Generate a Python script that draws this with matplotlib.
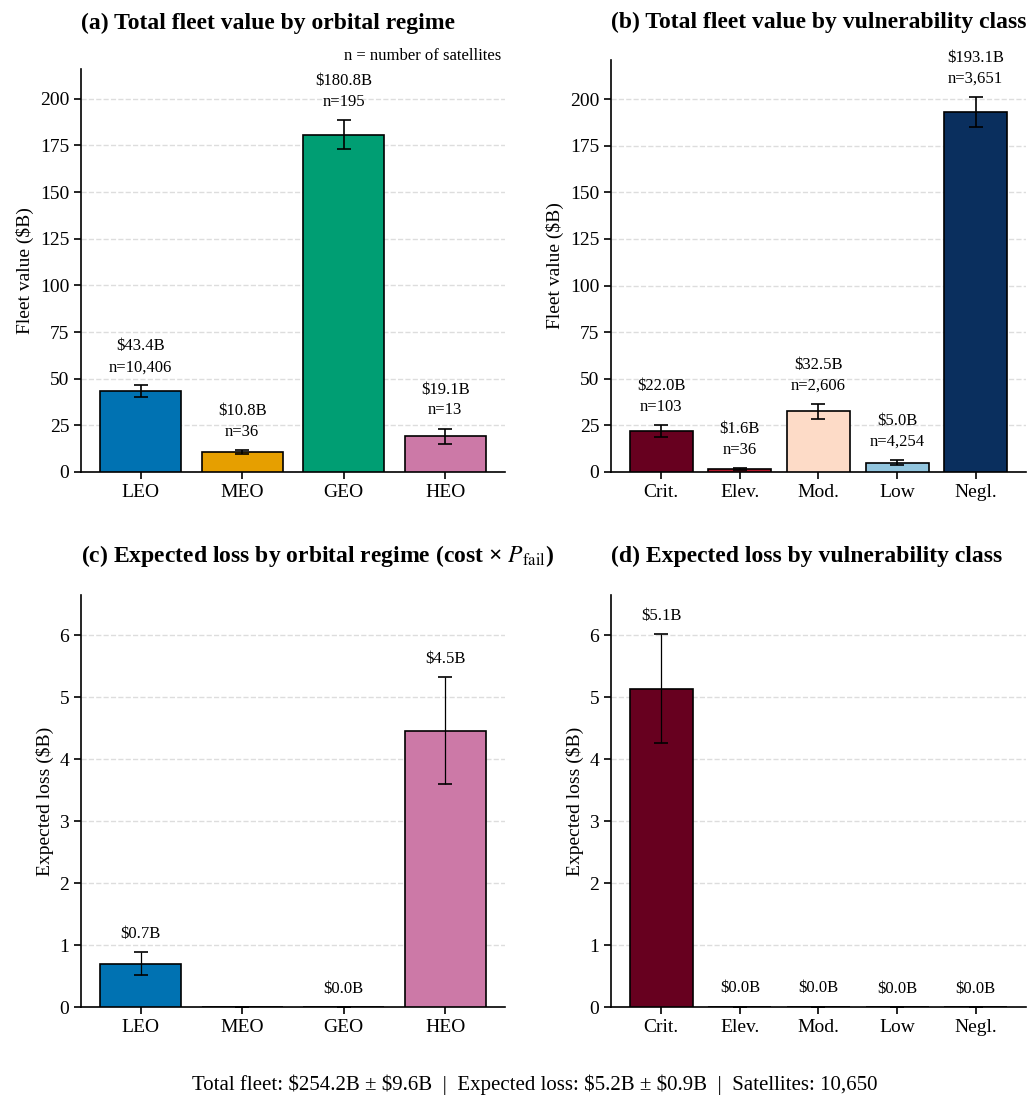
import matplotlib
matplotlib.use("Agg")
import matplotlib.pyplot as plt
import numpy as np

plt.rcParams["font.family"] = ["Liberation Serif", "DejaVu Serif"]
plt.rcParams["mathtext.fontset"] = "stix"

# fleet value by orbital regime ($B)
regimes = ["LEO", "MEO", "GEO", "HEO"]
regime_value = [43.4, 10.8, 180.8, 19.1]
regime_value_err = [3.1, 1.0, 7.8, 4.2]
regime_n = [10406, 36, 195, 13]
regime_colors = ["#0072B2", "#E69F00", "#009E73", "#CC79A7"]

# fleet value by vulnerability class ($B)
classes = ["Crit.", "Elev.", "Mod.", "Low", "Negl."]
class_value = [22.0, 1.6, 32.5, 5.0, 193.1]
class_value_err = [3.0, 0.5, 4.0, 1.4, 8.0]
class_n = [103, 36, 2606, 4254, 3651]
class_colors = ["#67001F", "#B2182B", "#FDDBC7", "#92C5DE", "#0A2F5E"]

# expected loss = cost x P_fail ($B)
regime_loss = [0.70, 0.0, 0.003, 4.46]
regime_loss_err = [0.18, 0.0, 0.0, 0.86]
class_loss = [5.14, 0.005, 0.008, 0.003, 0.001]
class_loss_err = [0.88, 0.0, 0.0, 0.0, 0.0]

footer = ("Total fleet: \\$254.2B \u00b1 \\$9.6B  |  Expected loss: \\$5.2B \u00b1 \\$0.9B"
          "  |  Satellites: 10,650")

W, H = 1028, 1102
fig = plt.figure(figsize=(W / 100, H / 100), dpi=100)


def px_axes(left, top, right, bottom):
    return fig.add_axes([left / W, 1 - bottom / H, (right - left) / W, (bottom - top) / H])


ax_a = px_axes(81, 69, 505, 472)
ax_b = px_axes(611, 60, 1026, 472)
ax_c = px_axes(81, 595, 505, 1007)
ax_d = px_axes(611, 595, 1026, 1007)


def bar_panel(ax, names, vals, errs, colors, ytop, counts=None, err_lw=1.2):
    x = np.arange(len(names))
    ax.bar(x, vals, width=0.8, color=colors, edgecolor="black", linewidth=1.2, zorder=3)
    ax.errorbar(x, vals, yerr=errs, fmt="none", ecolor="black", elinewidth=err_lw,
                capsize=5, capthick=1.2, zorder=4)
    ax.set_xticks(x)
    ax.set_xticklabels(names, fontsize=14)
    ax.set_ylim(0, ytop)
    ax.tick_params(axis="y", labelsize=14, length=5, width=1.2)
    ax.tick_params(axis="x", length=5, width=1.2)
    ax.yaxis.grid(True, ls="--", color="#dddddd", lw=1.0, zorder=0)
    ax.set_axisbelow(True)
    for s in ["top", "right"]:
        ax.spines[s].set_visible(False)
    for s in ["left", "bottom"]:
        ax.spines[s].set_linewidth(1.2)
    off = 0.025 * ytop
    for i, (v, e) in enumerate(zip(vals, errs)):
        if v == 0:
            continue
        txt = f"\\${v:.1f}B"
        if counts is not None:
            txt += f"\nn={counts[i]:,}"
        ax.text(i, v + e + off, txt, ha="center", va="bottom", fontsize=12,
                linespacing=1.4, zorder=5)


bar_panel(ax_a, regimes, regime_value, regime_value_err, regime_colors, 216, regime_n)
bar_panel(ax_b, classes, class_value, class_value_err, class_colors, 221, class_n)
bar_panel(ax_c, regimes, regime_loss, regime_loss_err, regime_colors, 6.65, err_lw=0.9)
bar_panel(ax_d, classes, class_loss, class_loss_err, class_colors, 6.65, err_lw=0.9)

ax_a.set_ylabel("Fleet value (\\$B)", fontsize=14)
ax_b.set_ylabel("Fleet value (\\$B)", fontsize=14)
ax_c.set_ylabel("Expected loss (\\$B)", fontsize=14)
ax_d.set_ylabel("Expected loss (\\$B)", fontsize=14)

ax_a.set_title("(a) Total fleet value by orbital regime", loc="left", fontsize=17,
               fontweight="bold", pad=29)
ax_b.set_title("(b) Total fleet value by vulnerability class", loc="left", fontsize=17,
               fontweight="bold", pad=23)
ax_c.set_title("(c) Expected loss by orbital regime (cost \u00d7 $P_{\\mathrm{fail}}$)",
               loc="left", fontsize=17, fontweight="bold", pad=24)
ax_d.set_title("(d) Expected loss by vulnerability class", loc="left", fontsize=17,
               fontweight="bold", pad=24)

ax_a.text(0.99, 1.012, "n = number of satellites", transform=ax_a.transAxes,
          ha="right", va="bottom", fontsize=12)

fig.text(535 / W, 1 - 1085 / H, footer, ha="center", va="center", fontsize=15)

fig.savefig("out.png", dpi=100)
